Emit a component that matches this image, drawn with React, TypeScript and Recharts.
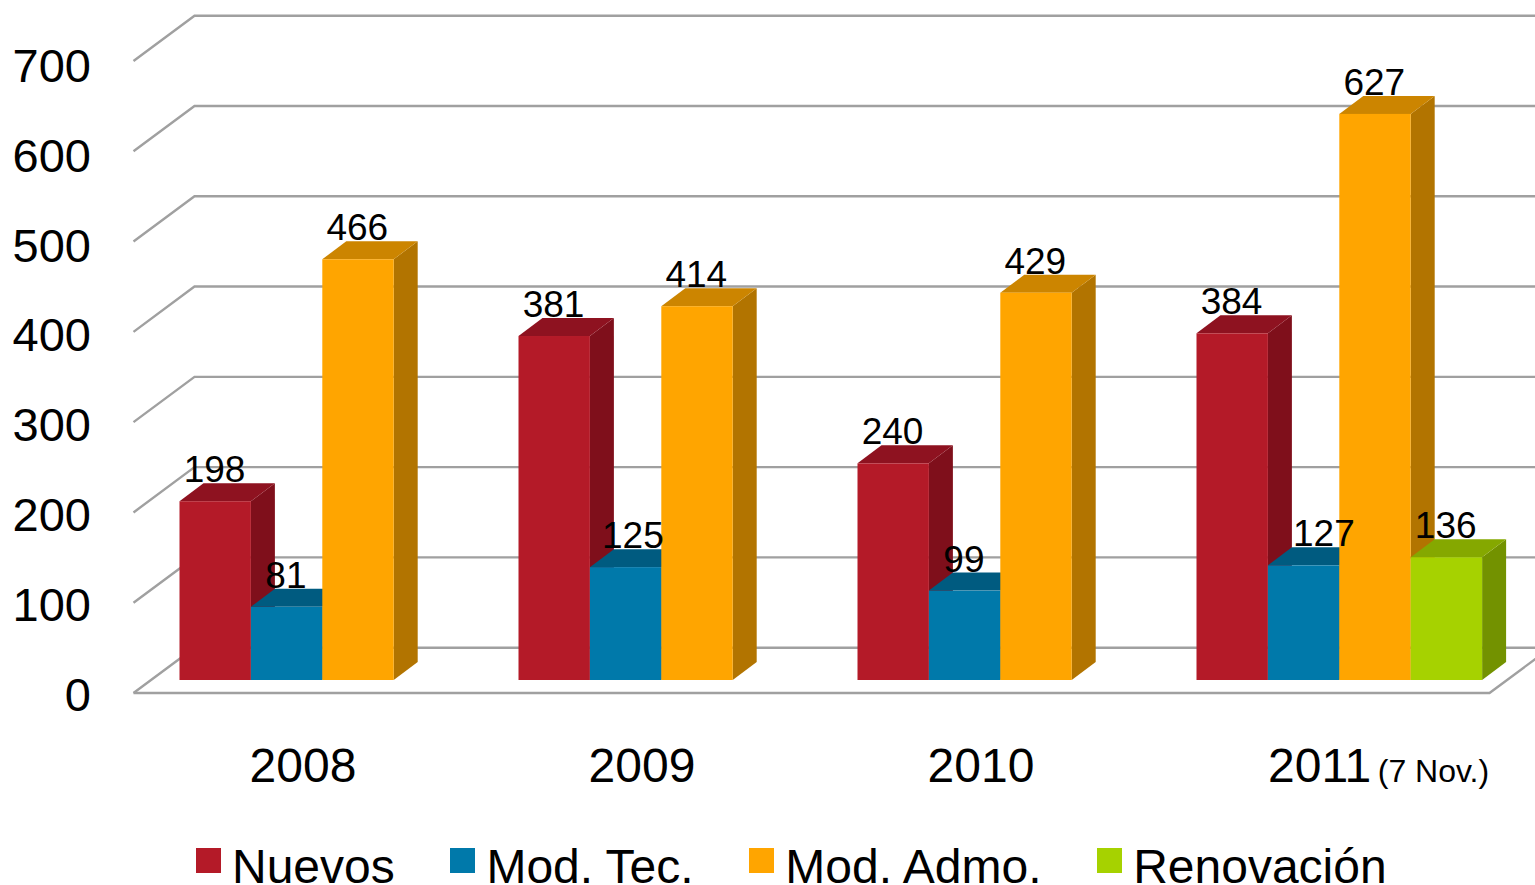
import { BarChart, Bar, XAxis, YAxis, CartesianGrid, Legend, LabelList } from "recharts";

const categories = ["2008", "2009", "2010", "2011 (7 Nov.)"];
const nuevos = [198, 381, 240, 384];
const modTec = [81, 125, 99, 127];
const modAdmo = [466, 414, 429, 627];
const renovacion = [null, null, null, 136];
const yTicks = [0, 100, 200, 300, 400, 500, 600, 700];

const data = categories.map((year, i) => ({
  year,
  nuevos: nuevos[i],
  modTec: modTec[i],
  modAdmo: modAdmo[i],
  renovacion: renovacion[i],
}));

const FONT = '"Liberation Sans", Arial, sans-serif';
const GRID = "#a0a0a0";
const DEPTH_X = 24;
const DEPTH_Y = 18;
// these two labels were moved by hand in the original
const LABEL_NUDGE: Record<number, number> = { 125: 8, 127: 21 };

function Box3D(props: any) {
  const { x, y, width, height, fill, side, top } = props;
  if (!height || height <= 0) return null;
  const r = x + width;
  const b = y + height;
  return (
    <g>
      <polygon
        points={`${r},${y} ${r + DEPTH_X},${y - DEPTH_Y} ${r + DEPTH_X},${b - DEPTH_Y} ${r},${b}`}
        fill={side}
      />
      <polygon
        points={`${x},${y} ${x + DEPTH_X},${y - DEPTH_Y} ${r + DEPTH_X},${y - DEPTH_Y} ${r},${y}`}
        fill={top}
      />
      <rect x={x} y={y} width={width} height={height} fill={fill} />
    </g>
  );
}

// wall + back line for each tick, the floor gets its front edge too
function GridLine(props: any) {
  const { x1, x2, y1, index } = props;
  const left = x1 - 19;
  const back = x1 + 42;
  const frontY = y1 + 13;
  const backY = y1 - 32.3;
  const isFloor = y1 > 670;
  return (
    <g key={index} fill="none" stroke={GRID} strokeWidth={2.4}>
      <polyline points={`${left},${frontY} ${back},${backY} 1535,${backY}`} />
      {isFloor && (
        <polyline points={`${left},${frontY} ${x2 - 19},${frontY} ${x2 + 42},${backY}`} />
      )}
    </g>
  );
}

function YTick({ y, payload }: any) {
  return (
    <text x={91} y={y + 31 + payload.value * 0.004} textAnchor="end" fontSize={47} fontFamily={FONT} fill="#000">
      {payload.value}
    </text>
  );
}

function XTick({ x, payload }: any) {
  const [year, ...rest] = String(payload.value).split(" ");
  const note = rest.join(" ");
  const cx = x - 19;
  if (note) {
    return (
      <text x={cx - 52} y={782} fontSize={48} fontFamily={FONT} fill="#000">
        {year}
        <tspan fontSize={32} dx={6.5}>{note}</tspan>
      </text>
    );
  }
  return (
    <text x={cx} y={782} textAnchor="middle" fontSize={48} fontFamily={FONT} fill="#000">
      {year}
    </text>
  );
}

function DataLabel({ x, y, width, value }: any) {
  if (value === null || value === undefined) return null;
  const nudge = LABEL_NUDGE[value] || 0;
  return (
    <text x={x + width / 2 + nudge - 0.7} y={y - 19} textAnchor="middle" fontSize={37} fontFamily={FONT} fill="#000">
      {value}
    </text>
  );
}

function LegendRow({ payload }: any) {
  return (
    <div style={{ display: "flex", gap: 55.7, paddingLeft: 196, fontFamily: FONT, fontSize: 48, color: "#000", lineHeight: "38px" }}>
      {(payload || []).map((item: any) => (
        <div key={item.value} style={{ display: "flex", alignItems: "flex-start", whiteSpace: "nowrap" }}>
          <span style={{ width: 25, height: 25, marginTop: 0.5, marginRight: 11, background: item.color }} />
          <span>{item.value}</span>
        </div>
      ))}
    </div>
  );
}

export default function App() {
  return (
    <div style={{ position: "absolute", left: 0, top: 0, width: 1535, height: 885, overflow: "hidden", background: "#fff" }}>
      <BarChart
        width={1535}
        height={885}
        data={data}
        margin={{ top: 48, right: 26.5, bottom: 0, left: 0 }}
        barSize={71.4}
        barGap={0}
      >
        <CartesianGrid vertical={false} horizontal={GridLine} />
        <XAxis dataKey="year" height={205} axisLine={false} tickLine={false} interval={0} tick={XTick} />
        <YAxis width={152.5} domain={[0, 700]} ticks={yTicks} axisLine={false} tickLine={false} interval={0} tick={YTick} />
        <Legend
          layout="horizontal"
          verticalAlign="middle"
          align="center"
          itemSorter={null}
          wrapperStyle={{ left: 0, top: 847.5, width: 1535 }}
          content={LegendRow}
        />
        <Bar
          dataKey="nuevos"
          name="Nuevos"
          fill="#b41a28"
          isAnimationActive={false}
          shape={(p: any) => <Box3D {...p} side="#7f0f1b" top="#8e1220" />}
        >
          <LabelList dataKey="nuevos" content={DataLabel} />
        </Bar>
        <Bar
          dataKey="modTec"
          name="Mod. Tec."
          fill="#0079aa"
          isAnimationActive={false}
          shape={(p: any) => <Box3D {...p} side="#005b80" top="#005b80" />}
        >
          <LabelList dataKey="modTec" content={DataLabel} />
        </Bar>
        <Bar
          dataKey="modAdmo"
          name="Mod. Admo."
          fill="#ffa500"
          isAnimationActive={false}
          shape={(p: any) => <Box3D {...p} side="#b27400" top="#cc8500" />}
        >
          <LabelList dataKey="modAdmo" content={DataLabel} />
        </Bar>
        <Bar
          dataKey="renovacion"
          name="Renovación"
          fill="#a6d200"
          isAnimationActive={false}
          shape={(p: any) => <Box3D {...p} side="#739200" top="#85a800" />}
        >
          <LabelList dataKey="renovacion" content={DataLabel} />
        </Bar>
      </BarChart>
    </div>
  );
}
